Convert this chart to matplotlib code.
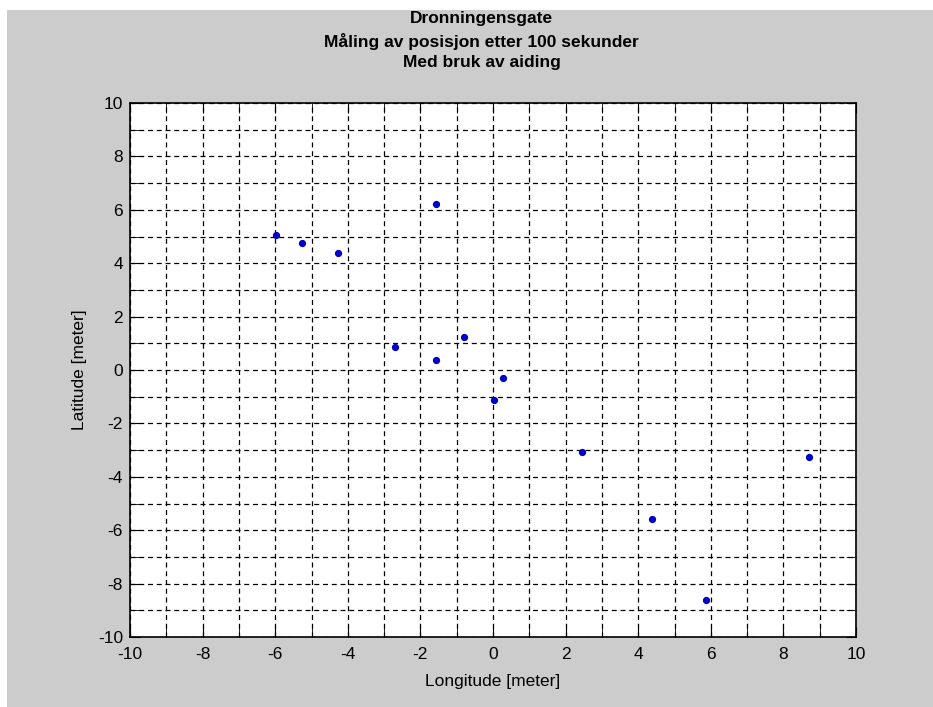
import matplotlib.pyplot as plt
from matplotlib.patches import Rectangle
from matplotlib.ticker import MultipleLocator

plt.rcParams['font.family'] = ['Liberation Sans', 'DejaVu Sans']
plt.rcParams['axes.unicode_minus'] = False

# positions (meter)
longitude = [-5.97, -5.27, -4.26, -1.58, -2.70, -1.57, -0.79, 0.27, 0.04, 2.44, 8.71, 4.39, 5.86]
latitude = [5.06, 4.77, 4.39, 6.22, 0.87, 0.37, 1.25, -0.31, -1.12, -3.08, -3.27, -5.59, -8.61]

title_lines = ['Dronningensgate', 'Måling av posisjon etter 100 sekunder', 'Med bruk av aiding']

fig = plt.figure(figsize=(9.33, 7.07), dpi=100)
fig.patch.set_facecolor('white')
# grey window area, leaving the thin white strip at top/left
fig.patches.append(Rectangle((7 / 933, 0), 1, 697 / 707, transform=fig.transFigure,
                             facecolor='#cccccc', edgecolor='none', zorder=-1))

ax = fig.add_axes([130 / 933, 70 / 707, 726 / 933, 534 / 707])
ax.set_facecolor('white')
ax.plot(longitude, latitude, 'o', color='#0000c8', markersize=4.2, zorder=3)

ax.set_xlim(-10, 10)
ax.set_ylim(-10, 10)
ax.xaxis.set_major_locator(MultipleLocator(2))
ax.yaxis.set_major_locator(MultipleLocator(2))
ax.xaxis.set_minor_locator(MultipleLocator(1))
ax.yaxis.set_minor_locator(MultipleLocator(1))
ax.tick_params(which='both', direction='in', top=True, right=True, labelsize=12.5)
ax.tick_params(axis='x', which='major', pad=7)
ax.tick_params(axis='y', which='major', pad=5)
ax.tick_params(which='both', length=7)
ax.grid(True, which='both', color='black', linestyle=(0, (4, 3)), linewidth=0.9)
ax.set_axisbelow(False)
for s in ax.spines.values():
    s.set_linewidth(1.2)
    s.set_zorder(4)

ax.set_xlabel('Longitude [meter]', fontsize=12.5, labelpad=9)
ax.set_ylabel('Latitude [meter]', fontsize=12.5, labelpad=8)

ys = [18, 41, 63]
for t, y in zip(title_lines, ys):
    fig.text(0.5 + 30 / 933 * 0.5, 1 - y / 707, t, ha='center', va='center',
             fontsize=12.5, fontweight='bold')

fig.savefig('out.png', dpi=100, facecolor=fig.get_facecolor())
